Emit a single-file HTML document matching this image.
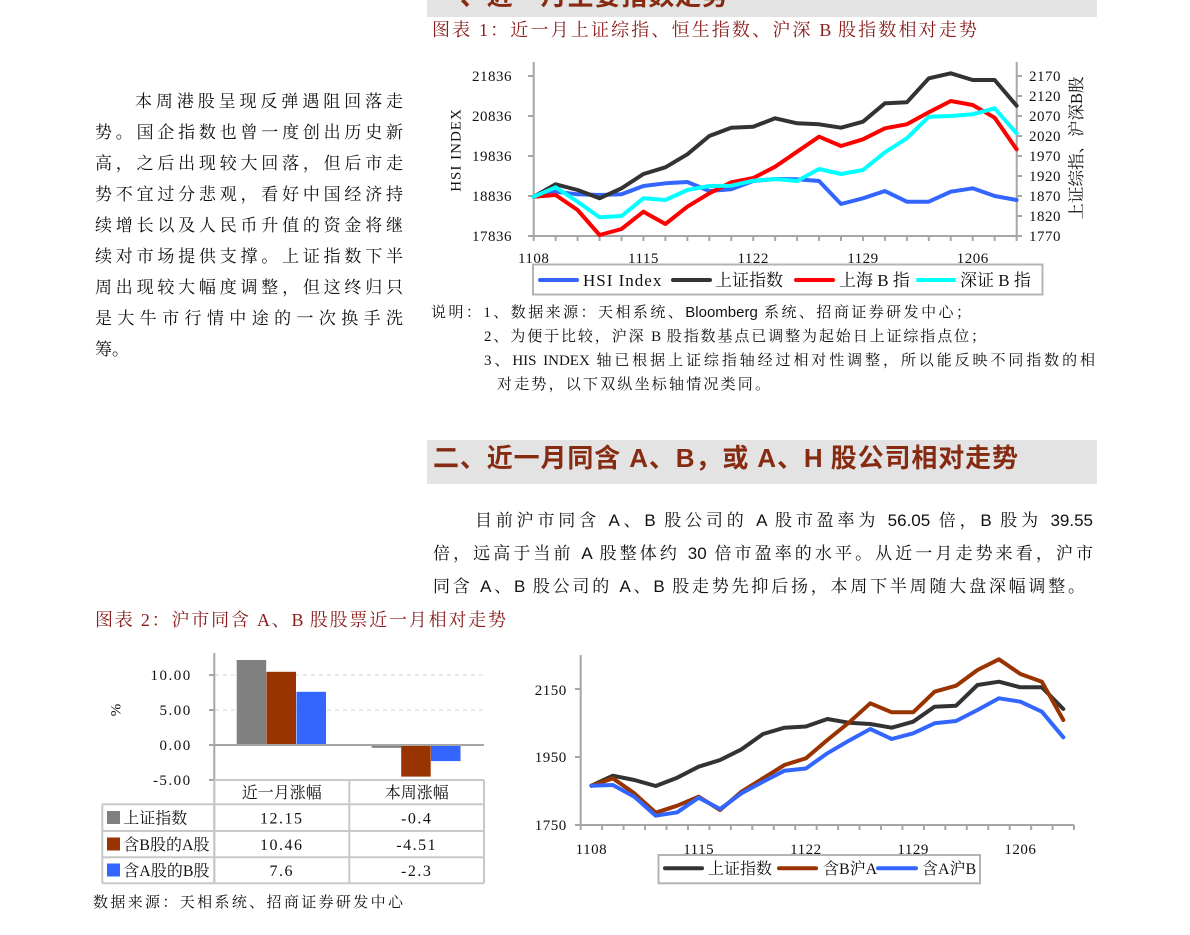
<!DOCTYPE html>
<html><head><meta charset="utf-8">
<style>
html,body{margin:0;padding:0;background:#fff;}
#root{position:relative;width:1190px;height:935px;overflow:hidden;background:#fff;}
.j{position:absolute;text-align:justify;text-align-last:justify;white-space:normal;}
.cj{font-family:"Liberation Serif","Noto Serif CJK SC",serif;}
.band{position:absolute;background:#e3e3e3;overflow:hidden;}
.hd{font-family:"Liberation Sans","Noto Sans CJK SC",sans-serif;font-weight:bold;color:#862a12;font-size:26px;line-height:30px;}
.lp{font-family:"Noto Serif CJK SC",serif;font-size:17px;line-height:20px;color:#111;}
.ttl{font-family:"Liberation Serif","Noto Serif CJK SC",serif;font-size:18px;line-height:22px;color:#8b1c1c;}
.nt{font-family:"Liberation Serif","Noto Serif CJK SC",serif;font-size:15px;line-height:18px;color:#111;}
.pp{font-family:"Liberation Sans","Noto Serif CJK SC",serif;font-size:17px;line-height:20px;color:#111;}
svg{position:absolute;left:0;top:0;}
</style></head>
<body><div id="root">

<!-- top cut-off header band -->
<div class="band" style="left:427px;top:0;width:670px;height:17px;">
  <div class="j hd" style="left:6px;top:-19px;width:295px;">一、近一月主要指数走势</div>
</div>

<div class="j ttl" style="left:432px;top:19px;width:545px;">图表 1：近一月上证综指、恒生指数、沪深 B 股指数相对走势</div>

<!-- left paragraph -->
<div class="j lp" style="left:135px;top:90px;width:268px;">本周港股呈现反弹遇阻回落走</div>
<div class="j lp" style="left:95px;top:121px;width:308px;">势。国企指数也曾一度创出历史新</div>
<div class="j lp" style="left:95px;top:152px;width:308px;">高，之后出现较大回落，但后市走</div>
<div class="j lp" style="left:95px;top:183px;width:308px;">势不宜过分悲观，看好中国经济持</div>
<div class="j lp" style="left:95px;top:214px;width:308px;">续增长以及人民币升值的资金将继</div>
<div class="j lp" style="left:95px;top:245px;width:308px;">续对市场提供支撑。上证指数下半</div>
<div class="j lp" style="left:95px;top:276px;width:308px;">周出现较大幅度调整，但这终归只</div>
<div class="j lp" style="left:95px;top:307px;width:308px;">是大牛市行情中途的一次换手洗</div>
<div class="lp" style="position:absolute;left:95px;top:338px;">筹。</div>

<!-- notes -->
<div class="j nt" style="left:431px;top:304px;width:540px;">说明：1、数据来源：天相系统、<span style="font-family:'Liberation Sans',sans-serif;">Bloomberg</span> 系统、招商证券研发中心；</div>
<div class="j nt" style="left:484px;top:328px;width:502px;">2、为便于比较，沪深 B 股指数基点已调整为起始日上证综指点位；</div>
<div class="j nt" style="left:484px;top:352px;width:611px;">3、HIS INDEX 轴已根据上证综指轴经过相对性调整，所以能反映不同指数的相</div>
<div class="j nt" style="left:497px;top:376px;width:273px;">对走势，以下双纵坐标轴情况类同。</div>

<!-- section heading -->
<div class="band" style="left:427px;top:440px;width:670px;height:44px;">
  <div class="j hd" style="left:6px;top:3px;width:585px;">二、近一月同含 A、B，或 A、H 股公司相对走势</div>
</div>

<!-- section paragraph -->
<div class="j pp" style="left:475px;top:511px;width:618px;">目前沪市同含 A、B 股公司的 A 股市盈率为 56.05 倍，B 股为 39.55</div>
<div class="j pp" style="left:433px;top:544px;width:660px;">倍，远高于当前 A 股整体约 30 倍市盈率的水平。从近一月走势来看，沪市</div>
<div class="j pp" style="left:433px;top:577px;width:652px;">同含 A、B 股公司的 A、B 股走势先抑后扬，本周下半周随大盘深幅调整。</div>

<div class="j ttl" style="left:95px;top:609px;width:411px;">图表 2：沪市同含 A、B 股股票近一月相对走势</div>

<div class="j nt" style="left:93px;top:894px;width:310px;">数据来源：天相系统、招商证券研发中心</div>

<svg width="1190" height="935" viewBox="0 0 1190 935" xmlns="http://www.w3.org/2000/svg" font-family="Liberation Serif, Noto Serif CJK SC, serif">
  <!-- ===== Chart 1 ===== -->
  <g stroke="#a6a6a6" stroke-width="2" fill="none">
    <line x1="533.7" y1="62" x2="533.7" y2="236"/>
    <line x1="1016.7" y1="62" x2="1016.7" y2="236"/>
    <line x1="533.7" y1="236" x2="1016.7" y2="236"/>
    <!-- left ticks -->
    <path d="M528 76H533.7M528 116H533.7M528 156H533.7M528 196H533.7M528 236H533.7"/>
    <!-- right ticks -->
    <path d="M1016.7 76H1022M1016.7 96H1022M1016.7 116H1022M1016.7 136H1022M1016.7 156H1022M1016.7 176H1022M1016.7 196H1022M1016.7 216H1022M1016.7 236H1022"/>
    <!-- bottom ticks -->
    <path d="M533.7 236V241M555.65 236V241M577.6 236V241M599.55 236V241M621.5 236V241M643.45 236V241M665.4 236V241M687.35 236V241M709.3 236V241M731.25 236V241M753.2 236V241M775.15 236V241M797.1 236V241M819.05 236V241M841 236V241M862.95 236V241M884.9 236V241M906.85 236V241M928.8 236V241M950.75 236V241M972.7 236V241M994.65 236V241M1016.6 236V241"/>
  </g>
  <g font-size="15" fill="#111" letter-spacing="0.5">
    <text x="512" y="81" text-anchor="end">21836</text>
    <text x="512" y="121" text-anchor="end">20836</text>
    <text x="512" y="161" text-anchor="end">19836</text>
    <text x="512" y="201" text-anchor="end">18836</text>
    <text x="512" y="241" text-anchor="end">17836</text>
    <text x="1029" y="81">2170</text>
    <text x="1029" y="101">2120</text>
    <text x="1029" y="121">2070</text>
    <text x="1029" y="141">2020</text>
    <text x="1029" y="161">1970</text>
    <text x="1029" y="181">1920</text>
    <text x="1029" y="201">1870</text>
    <text x="1029" y="221">1820</text>
    <text x="1029" y="241">1770</text>
    <text x="533.7" y="263" text-anchor="middle">1108</text>
    <text x="643.45" y="263" text-anchor="middle">1115</text>
    <text x="753.2" y="263" text-anchor="middle">1122</text>
    <text x="862.95" y="263" text-anchor="middle">1129</text>
    <text x="972.7" y="263" text-anchor="middle">1206</text>
  </g>
  <text transform="translate(456.7,150) rotate(-90)" text-anchor="middle" dominant-baseline="central" font-size="15" letter-spacing="1" fill="#111">HSI INDEX</text>
  <text transform="translate(1076.7,148) rotate(-90)" text-anchor="middle" dominant-baseline="central" font-size="16.5" fill="#111">上证综指、沪深B股</text>

  <g fill="none" stroke-width="4" stroke-linejoin="round" stroke-linecap="round">
    <polyline stroke="#3366ff" points="533.7,196.7 555.65,191.7 577.6,194.3 599.55,195 621.5,194.3 643.45,186 665.4,183.3 687.35,182 709.3,191 731.25,189.3 753.2,181 775.15,179 797.1,179.3 819.05,181 841,204 862.95,198.3 884.9,191 906.85,201.7 928.8,201.7 950.75,191.7 972.7,188.3 994.65,196 1016.6,200"/>
    <polyline stroke="#333333" points="533.7,196.7 555.65,184.3 577.6,190 599.55,198.3 621.5,188.3 643.45,174 665.4,167.3 687.35,154.3 709.3,136 731.25,127.7 753.2,126.7 775.15,118.3 797.1,123.3 819.05,124.3 841,127.7 862.95,121.7 884.9,103.3 906.85,102.3 928.8,78.3 950.75,73.3 972.7,80 994.65,80 1016.6,105.7"/>
    <polyline stroke="#ff0000" points="533.7,196.7 555.65,195 577.6,210 599.55,235 621.5,229 643.45,211.7 665.4,224 687.35,206.7 709.3,193.3 731.25,182.3 753.2,178 775.15,166.7 797.1,151.7 819.05,136.7 841,146 862.95,139.3 884.9,128.3 906.85,124.3 928.8,112.3 950.75,101 972.7,105 994.65,117.7 1016.6,149.3"/>
    <polyline stroke="#00ffff" points="533.7,196.7 555.65,187.3 577.6,201.7 599.55,217.3 621.5,216 643.45,198.3 665.4,200 687.35,190 709.3,186 731.25,185.7 753.2,180.7 775.15,179 797.1,181 819.05,169 841,174 862.95,170 884.9,152.3 906.85,138.3 928.8,116.7 950.75,116 972.7,114.3 994.65,108.3 1016.6,133.3"/>
  </g>
  <!-- legend 1 -->
  <rect x="533" y="264.5" width="509.5" height="30" fill="#fff" stroke="#b4b4b4" stroke-width="2"/>
  <g stroke-width="4" stroke-linecap="round">
    <line x1="540" y1="280" x2="577" y2="280" stroke="#3366ff"/>
    <line x1="673" y1="280" x2="710" y2="280" stroke="#333"/>
    <line x1="796" y1="280" x2="833" y2="280" stroke="#ff0000"/>
    <line x1="918" y1="280" x2="954" y2="280" stroke="#00ffff"/>
  </g>
  <g font-size="17" fill="#111">
    <text x="583" y="286" letter-spacing="1">HSI Index</text>
    <text x="715" y="286">上证指数</text>
    <text x="839" y="286">上海 B 指</text>
    <text x="960" y="286">深证 B 指</text>
  </g>

  <!-- ===== Chart 2 (bars + table) ===== -->
  <g stroke="#d4d4d4" stroke-width="1" stroke-dasharray="4,4">
    <line x1="215" y1="675" x2="484" y2="675"/>
    <line x1="215" y1="710" x2="484" y2="710"/>
  </g>
  <g>
    <rect x="236.7" y="660" width="29.5" height="85" fill="#808080"/>
    <rect x="266.5" y="671.8" width="29.5" height="73.2" fill="#993300"/>
    <rect x="296.5" y="691.8" width="29.5" height="53.2" fill="#3366ff"/>
    <rect x="371.7" y="745" width="29.5" height="2.8" fill="#808080"/>
    <rect x="401.2" y="745" width="29.5" height="31.6" fill="#993300"/>
    <rect x="431" y="745" width="29.5" height="16.1" fill="#3366ff"/>
  </g>
  <g stroke="#a6a6a6" stroke-width="2" fill="none">
    <line x1="214.3" y1="745" x2="484" y2="745"/>
    <line x1="214.3" y1="653" x2="214.3" y2="884"/>
    <path d="M209 675H214.3M209 710H214.3M209 745H214.3M209 780H214.3"/>
  </g>
  <g stroke="#c8c8c8" stroke-width="2" fill="none">
    <line x1="214.3" y1="780" x2="484" y2="780"/>
    <line x1="102.3" y1="804.3" x2="484" y2="804.3"/>
    <line x1="102.3" y1="831" x2="484" y2="831"/>
    <line x1="102.3" y1="857.3" x2="484" y2="857.3"/>
    <line x1="102.3" y1="883.3" x2="484" y2="883.3"/>
    <line x1="102.3" y1="804.3" x2="102.3" y2="883.3"/>
    <line x1="214.3" y1="780" x2="214.3" y2="883.3"/>
    <line x1="349.3" y1="780" x2="349.3" y2="883.3"/>
    <line x1="484" y1="780" x2="484" y2="883.3"/>
  </g>
  <g font-size="15" fill="#111" letter-spacing="1.5">
    <text x="191.7" y="680" text-anchor="end">10.00</text>
    <text x="191.7" y="715" text-anchor="end">5.00</text>
    <text x="191.7" y="750" text-anchor="end">0.00</text>
    <text x="191.7" y="785" text-anchor="end">-5.00</text>
  </g>
  <text transform="translate(116.7,710) rotate(-90)" text-anchor="middle" dominant-baseline="central" font-size="15" fill="#111">%</text>
  <g font-size="16" fill="#111">
    <text x="281.8" y="798" text-anchor="middle">近一月涨幅</text>
    <text x="416.7" y="798" text-anchor="middle">本周涨幅</text>
    <text x="123.3" y="823.5">上证指数</text>
    <text x="123.3" y="850">含B股的A股</text>
    <text x="123.3" y="876">含A股的B股</text>
    <g letter-spacing="1.5">
    <text x="281.8" y="823.5" text-anchor="middle">12.15</text>
    <text x="416.7" y="823.5" text-anchor="middle">-0.4</text>
    <text x="281.8" y="850" text-anchor="middle">10.46</text>
    <text x="416.7" y="850" text-anchor="middle">-4.51</text>
    <text x="281.8" y="876" text-anchor="middle">7.6</text>
    <text x="416.7" y="876" text-anchor="middle">-2.3</text>
    </g>
  </g>
  <rect x="107" y="811" width="13" height="13" fill="#808080"/>
  <rect x="107" y="837.5" width="13" height="13" fill="#993300"/>
  <rect x="107" y="863.5" width="13" height="13" fill="#3366ff"/>

  <!-- ===== Chart 3 ===== -->
  <g stroke="#a6a6a6" stroke-width="2" fill="none">
    <line x1="580.7" y1="655" x2="580.7" y2="825"/>
    <line x1="580.7" y1="825" x2="1074" y2="825"/>
    <path d="M575 689H580.7M575 757H580.7M575 825H580.7"/>
    <path d="M580.7 825V830M602.15 825V830M623.6 825V830M645.05 825V830M666.5 825V830M687.95 825V830M709.4 825V830M730.85 825V830M752.3 825V830M773.75 825V830M795.2 825V830M816.65 825V830M838.1 825V830M859.55 825V830M881 825V830M902.45 825V830M923.9 825V830M945.35 825V830M966.8 825V830M988.25 825V830M1009.7 825V830M1031.15 825V830M1052.6 825V830M1074 825V830"/>
  </g>
  <g font-size="15" fill="#111" letter-spacing="0.5">
    <text x="566.7" y="695" text-anchor="end">2150</text>
    <text x="566.7" y="762" text-anchor="end">1950</text>
    <text x="566.7" y="830" text-anchor="end">1750</text>
    <text x="591.4" y="854" text-anchor="middle">1108</text>
    <text x="698.65" y="854" text-anchor="middle">1115</text>
    <text x="805.9" y="854" text-anchor="middle">1122</text>
    <text x="913.15" y="854" text-anchor="middle">1129</text>
    <text x="1020.4" y="854" text-anchor="middle">1206</text>
  </g>
  <g fill="none" stroke-width="4" stroke-linejoin="round" stroke-linecap="round">
    <polyline stroke="#333333" points="591.4,785.7 612.85,775.7 634.3,780 655.75,786 677.2,777.7 698.65,766.7 720.1,760 741.55,749.3 763,734 784.45,727.7 805.9,726.5 827.35,719 848.8,722.7 870.25,724 891.7,727.7 913.15,721.7 934.6,706.7 956.05,705.7 977.5,685 998.95,681.7 1020.4,687.3 1041.85,687.3 1063.3,709"/>
    <polyline stroke="#993300" points="591.4,785.7 612.85,778.3 634.3,793.3 655.75,812.7 677.2,805.7 698.65,796.7 720.1,810 741.55,791.7 763,778.3 784.45,765 805.9,758.3 827.35,740 848.8,722.7 870.25,703.3 891.7,712.3 913.15,712.3 934.6,691.7 956.05,685.7 977.5,670 998.95,659.3 1020.4,674 1041.85,681.7 1063.3,720"/>
    <polyline stroke="#3366ff" points="591.4,785.7 612.85,785 634.3,796.7 655.75,815.7 677.2,812.3 698.65,797.7 720.1,809 741.55,793.3 763,781.7 784.45,770.7 805.9,768.5 827.35,753.3 848.8,740.7 870.25,729 891.7,739 913.15,733.3 934.6,723.3 956.05,721 977.5,710 998.95,698.3 1020.4,701.7 1041.85,711.7 1063.3,737.3"/>
  </g>
  <rect x="658.5" y="855" width="321.5" height="28.3" fill="#fff" stroke="#b4b4b4" stroke-width="2"/>
  <g stroke-width="4" stroke-linecap="round">
    <line x1="665" y1="868.3" x2="702" y2="868.3" stroke="#333"/>
    <line x1="779" y1="868.3" x2="816" y2="868.3" stroke="#993300"/>
    <line x1="878" y1="868.3" x2="916" y2="868.3" stroke="#3366ff"/>
  </g>
  <g font-size="16" fill="#111">
    <text x="708" y="874">上证指数</text>
    <text x="823" y="874">含B沪A</text>
    <text x="922" y="874">含A沪B</text>
  </g>
</svg>
</div></body></html>
